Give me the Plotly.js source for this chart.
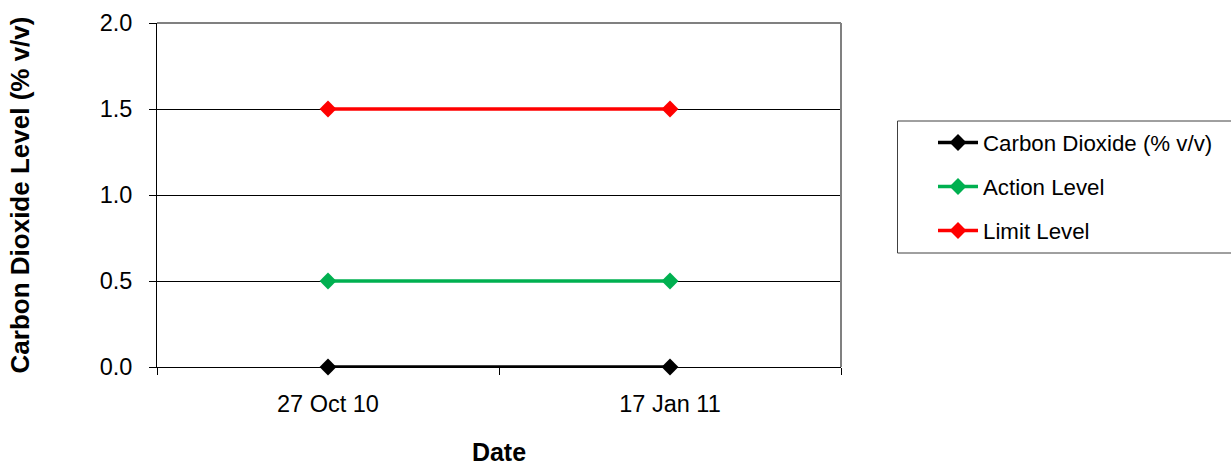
<!DOCTYPE html>
<html>
<head>
<meta charset="utf-8">
<script src="https://cdn.plot.ly/plotly-3.0.1.min.js"></script>
<style>html,body{margin:0;padding:0;background:#fff;}#chart{width:1231px;height:466px;}</style>
</head>
<body>
<div id="chart"></div>
<script>
var categories = ["27 Oct 10", "17 Jan 11"];
var carbonDioxide = [0.0, 0.0];
var actionLevel = [0.5, 0.5];
var limitLevel = [1.5, 1.5];
var seriesNames = ["Carbon Dioxide (% v/v)", "Action Level", "Limit Level"];
var seriesColors = ["#000000", "#00B050", "#FF0000"];
var yTicks = [0, 0.5, 1.0, 1.5, 2.0];

var seriesData = [carbonDioxide, actionLevel, limitLevel];
var traces = seriesData.map(function (vals, i) {
  return {
    x: categories,
    y: vals,
    type: "scatter",
    mode: "lines+markers",
    name: seriesNames[i],
    legendgroup: "g" + i,
    line: {color: seriesColors[i], width: 3.5},
    marker: {symbol: "diamond", size: 13, color: seriesColors[i]},
    cliponaxis: false
  };
});

var fam = "Liberation Sans, Arial, sans-serif";

var layout = {
  width: 1231, height: 466,
  margin: {l: 157, r: 390, t: 23, b: 99},
  paper_bgcolor: "#fff", plot_bgcolor: "#fff",
  font: {family: fam, color: "#000"},
  showlegend: true,
  xaxis: {
    type: "category",
    range: [-0.5, 1.5],
    tickson: "boundaries",
    ticks: "outside", ticklen: 7, tickcolor: "#000",
    showgrid: false, zeroline: false,
    showline: true, linecolor: "#000", linewidth: 1,
    tickfont: {size: 23.5, family: fam, color: "#000"},
    ticklabelstandoff: 16,
    automargin: false,
    title: {text: "<b>Date</b>", font: {size: 25, family: fam, color: "#000"}, standoff: 28}
  },
  yaxis: {
    range: [0, 2],
    tickvals: yTicks,
    tickformat: ".1f",
    ticks: "outside", ticklen: 7, tickcolor: "#000",
    showgrid: true, gridcolor: "#000", gridwidth: 1,
    zeroline: false,
    showline: true, linecolor: "#000", linewidth: 1,
    tickfont: {size: 23.5, family: fam, color: "#000"},
    ticklabelstandoff: 12,
    automargin: "left",
    title: {text: "<b>Carbon Dioxide Level (% v/v)</b>", font: {size: 26, family: fam, color: "#000"}, standoff: 62}
  },
  legend: {
    x: (933 - 157) / 684, y: 0.7137, xanchor: "left", yanchor: "top",
    bgcolor: "rgba(0,0,0,0)", borderwidth: 0,
    font: {size: 22.3, family: fam, color: "#000"},
    tracegroupgap: 12,
    itemwidth: 40
  },
  shapes: [
    {type: "line", xref: "paper", yref: "paper", x0: 0, x1: 1, y0: 1, y1: 1, line: {color: "#808080", width: 2}},
    {type: "line", xref: "paper", yref: "paper", x0: 1, x1: 1, y0: 0, y1: 1, line: {color: "#808080", width: 2}},
    {type: "rect", xref: "paper", yref: "paper", layer: "below",
     x0: (897.5 - 157) / 684, x1: (1245 - 157) / 684, y0: (367 - 253) / 344, y1: (367 - 121) / 344,
     line: {color: "#404040", width: 1}, fillcolor: "rgba(0,0,0,0)"}
  ]
};

Plotly.newPlot("chart", traces, layout, {displayModeBar: false, staticPlot: true});
</script>
</body>
</html>
